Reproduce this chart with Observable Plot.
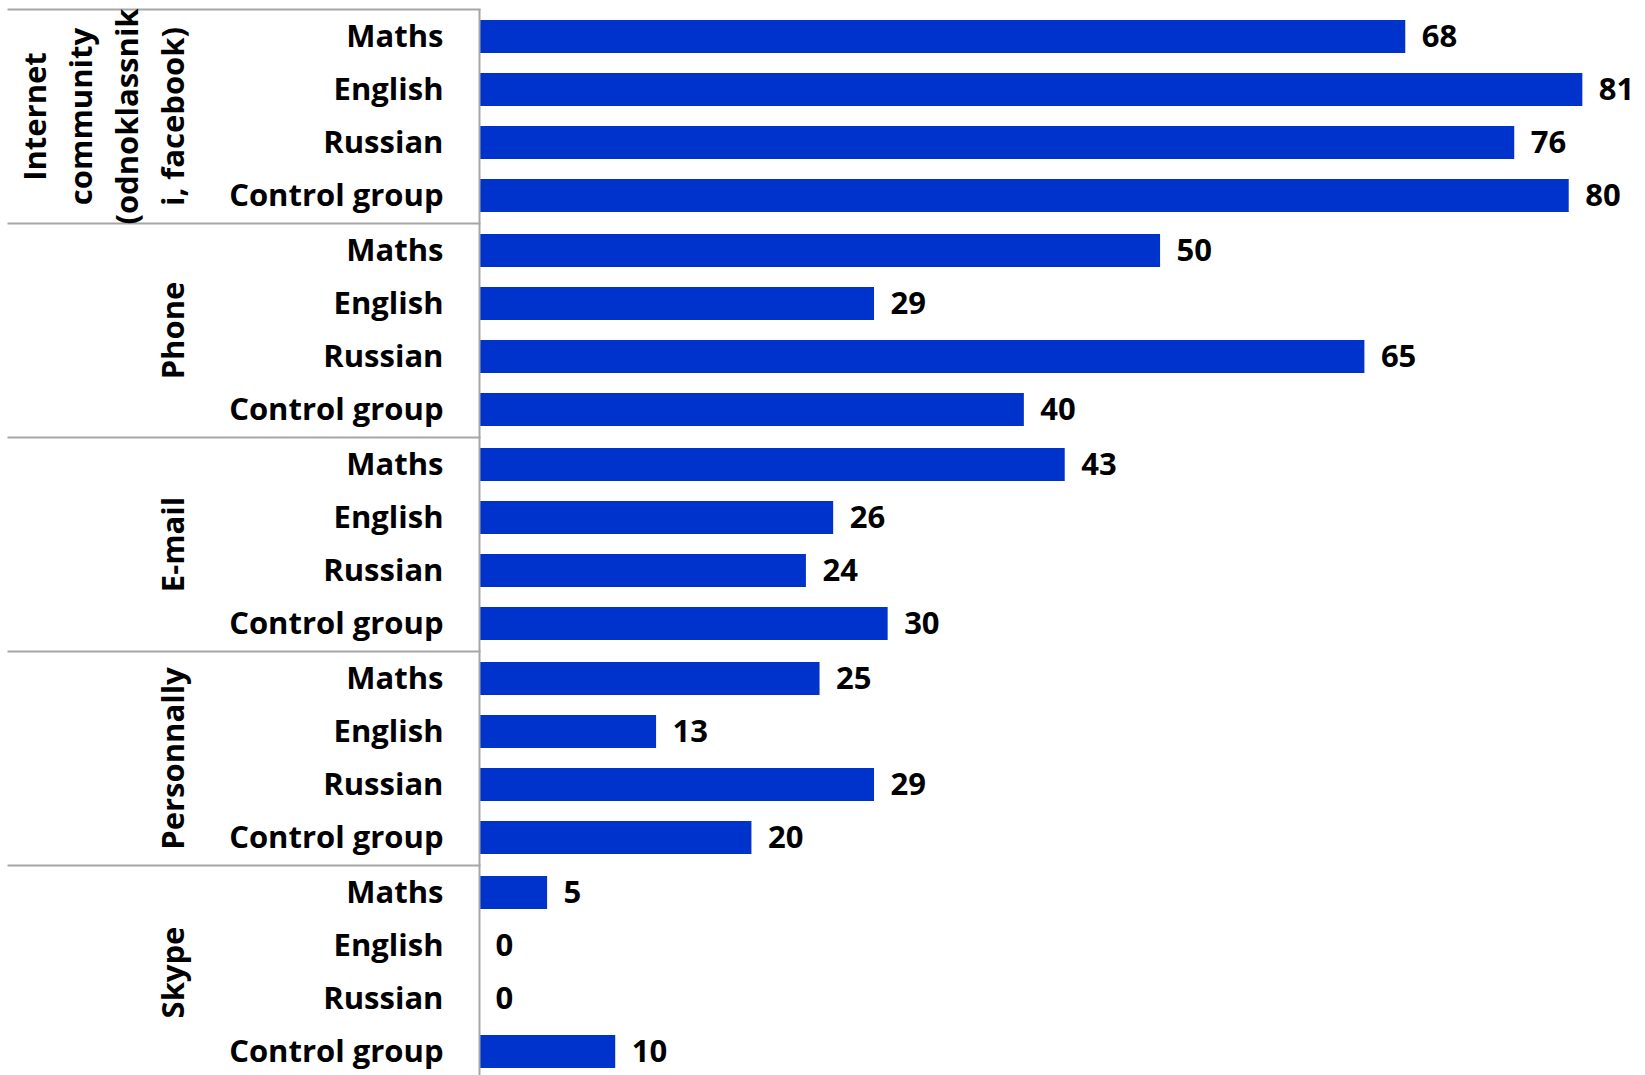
<!DOCTYPE html>
<html>
<head>
<meta charset="utf-8">
<script src="https://cdn.jsdelivr.net/npm/d3@7"></script>
<script src="https://cdn.jsdelivr.net/npm/@observablehq/plot@0.6"></script>
<style>
  html, body { margin: 0; padding: 0; background: #fff; overflow: hidden; }
</style>
</head>
<body>
<div id="chart"></div>
<script>
const groups = [
  "Internet\ncommunity\n(odnoklassnik\ni, facebook)",
  "Phone",
  "E-mail",
  "Personnally",
  "Skype"
];
const subjects = ["Maths", "English", "Russian", "Control group"];
const internetValues = [68, 81, 76, 80];
const phoneValues = [50, 29, 65, 40];
const emailValues = [43, 26, 24, 30];
const personallyValues = [25, 13, 29, 20];
const skypeValues = [5, 0, 0, 10];

const seriesByGroup = [internetValues, phoneValues, emailValues, personallyValues, skypeValues];
const rows = groups.flatMap((g, gi) =>
  subjects.map((s, si) => ({group: g, subject: s, value: seriesByGroup[gi][si]}))
);

const W = 1645, H = 1075;
const marginLeft = 479, marginTop = 7, marginBottom = -5, marginRight = 0;
const sepLeft = 8;
const gray = "#a6a6a6";
const font = "'Open Sans', Lato, sans-serif";
const fs = 31;

const chart = Plot.plot({
  width: W,
  height: H,
  marginLeft, marginRight, marginTop, marginBottom,
  style: {fontFamily: font, fontSize: fs + "px", fontWeight: "bold", color: "#000", background: "#fff"},
  x: {domain: [0, 85.6], axis: null},
  y: {domain: subjects, paddingInner: 0.38, paddingOuter: 0.19, tickSize: 0, tickPadding: 36, label: null},
  fy: {domain: groups, padding: 0, axis: null},
  marks: [
    Plot.frame({anchor: "top", stroke: gray, strokeWidth: 2, insetLeft: sepLeft - marginLeft, insetRight: W - marginRight - marginLeft}),
    Plot.barX(rows, {x: "value", y: "subject", fy: "group", fill: "#0033cc"}),
    Plot.ruleX([0], {stroke: gray, strokeWidth: 2}),
    Plot.text(rows, {x: "value", y: "subject", fy: "group", text: d => String(d.value), textAnchor: "start", dx: 16, fill: "#000", fontSize: fs, fontWeight: "bold"}),
    Plot.text(groups, {fy: d => d, text: d => d, frameAnchor: "left", rotate: -90, textAnchor: "middle", lineAnchor: "bottom", lineHeight: 1.48, dx: 183 - marginLeft, fill: "#000", fontSize: fs, fontWeight: "bold"})
  ]
});
document.getElementById("chart").appendChild(chart);
</script>
</body>
</html>
